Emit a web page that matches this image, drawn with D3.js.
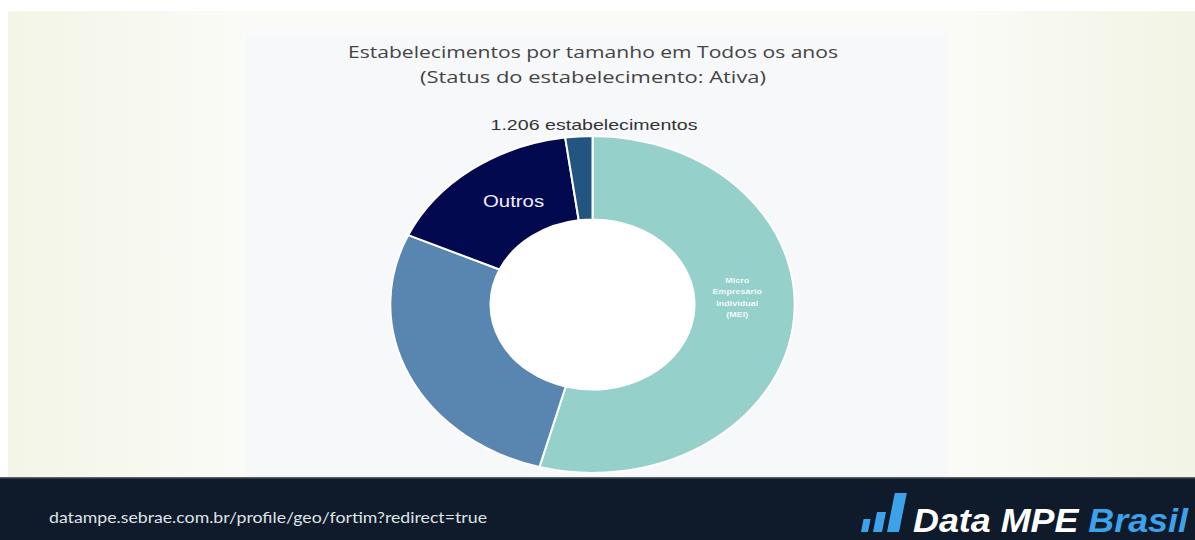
<!DOCTYPE html>
<html>
<head>
<meta charset="utf-8">
<script src="https://cdn.jsdelivr.net/npm/d3@7"></script>
<style>
  body { margin: 0; background: #fff; }
  svg { display: block; }
</style>
</head>
<body>
<script>
var W = 1195, H = 540;

// data
var categories = ["Micro Empresário Individual (MEI)", "Microempresa (ME)", "Outros", "Empresa de Pequeno Porte (EPP)"];
var values = [654, 332, 194, 26];
var colors = ["#95d0cb", "#5886b0", "#03094f", "#225680"];
var labelLines = [["Micro", "Empresário", "Individual", "(MEI)"], [], ["Outros"], []];
var titleLines = ["Estabelecimentos por tamanho em Todos os anos", "(Status do estabelecimento: Ativa)"];
var total = d3.sum(values);

var svg = d3.select("body").append("svg")
    .attr("width", W)
    .attr("height", H);

var defs = svg.append("defs");
var bg = defs.append("linearGradient").attr("id", "slidebg");
bg.append("stop").attr("offset", "0%").attr("stop-color", "#f3f5e7");
bg.append("stop").attr("offset", "20%").attr("stop-color", "#fafbf6");
bg.append("stop").attr("offset", "80%").attr("stop-color", "#fafbf6");
bg.append("stop").attr("offset", "100%").attr("stop-color", "#f2f4e5");

var pg = defs.append("linearGradient").attr("id", "panelbg")
    .attr("x1", 0).attr("y1", 0).attr("x2", 0).attr("y2", 1);
pg.append("stop").attr("offset", "0%").attr("stop-color", "#fbfbfa");
pg.append("stop").attr("offset", "4%").attr("stop-color", "#f7f8fa");
pg.append("stop").attr("offset", "100%").attr("stop-color", "#f7f8fa");

// slide background
svg.append("rect").attr("x", 8).attr("y", 11).attr("width", W - 8).attr("height", 466)
    .attr("fill", "url(#slidebg)");

// chart panel
svg.append("rect").attr("x", 246).attr("y", 22).attr("width", 702).attr("height", 455)
    .attr("fill", "url(#panelbg)");

// title
svg.selectAll(".title")
  .data(titleLines)
  .enter().append("text")
    .attr("class", "title")
    .attr("x", 593)
    .attr("y", function(d, i) { return 58 + i * 25; })
    .attr("text-anchor", "middle")
    .attr("textLength", function(d, i) { return i == 0 ? 490 : 346; })
    .attr("lengthAdjust", "spacingAndGlyphs")
    .style("font-family", "'Open Sans', sans-serif")
    .style("font-size", "16px")
    .style("fill", "#444")
    .text(function(d) { return d; });

svg.append("text")
    .attr("x", 594)
    .attr("y", 130)
    .attr("text-anchor", "middle")
    .attr("textLength", 207)
    .attr("lengthAdjust", "spacingAndGlyphs")
    .style("font-family", "'Liberation Sans', Arial, sans-serif")
    .style("font-size", "15px")
    .style("fill", "#333")
    .text(d3.format(",")(total).replace(",", ".") + " estabelecimentos");

// donut (the picture is stretched horizontally)
var outerR = 168.5, innerR = 85, sx = 1.2;

var pie = d3.pie().sort(null).value(function(d) { return d; });
var arc = d3.arc().innerRadius(innerR).outerRadius(outerR);

var g = svg.append("g")
    .attr("transform", "translate(592.5,304.5) scale(" + sx + ",1)");

// white hole
g.append("circle").attr("r", innerR).attr("fill", "#ffffff");

var arcs = pie(values);

g.selectAll("path")
  .data(arcs)
  .enter().append("path")
    .attr("d", arc)
    .attr("fill", function(d, i) { return colors[i]; })
    .attr("stroke", "#fff")
    .attr("stroke-width", 2)
    .attr("vector-effect", "non-scaling-stroke");

// slice labels
var labelShift = [[-6, -24], [0, 0], [12, -2], [0, 0]];
var labelSize = [7.5, 0, 17, 0];
var labelGap = [11.3, 0, 0, 0];

arcs.forEach(function(a, i) {
  var lines = labelLines[i];
  if (!lines.length) return;
  var c = arc.centroid(a);
  var cx = c[0] + labelShift[i][0] / sx, cy = c[1] + labelShift[i][1];
  var t = g.append("text")
      .attr("text-anchor", "middle")
      .style("font-family", "'Liberation Sans', Arial, sans-serif")
      .style("font-size", labelSize[i] + "px")
      .style("fill", i == 0 ? "rgba(255,255,255,0.9)" : "#eef")
      .style("font-weight", i == 0 ? "bold" : "normal");
  lines.forEach(function(l, j) {
    t.append("tspan")
      .attr("x", cx)
      .attr("y", cy + (j - (lines.length - 1) / 2) * labelGap[i])
      .attr("dy", "0.35em")
      .text(l);
  });
});

// footer
svg.append("rect").attr("x", 0).attr("y", 477).attr("width", W).attr("height", H - 477)
    .attr("fill", "#0f1b2b");
svg.append("rect").attr("x", 0).attr("y", 477).attr("width", W).attr("height", 1.5)
    .attr("fill", "#56606b");

svg.append("text")
    .attr("x", 49)
    .attr("y", 523)
    .attr("textLength", 438)
    .attr("lengthAdjust", "spacingAndGlyphs")
    .style("font-family", "Lato, sans-serif")
    .style("font-size", "15px")
    .style("fill", "#dfe2e6")
    .text("datampe.sebrae.com.br/profile/geo/fortim?redirect=true");

// logo
var logo = svg.append("g");
var bars = [[861, 519, 7], [873, 512, 9], [887, 493, 12]];
bars.forEach(function(b) {
  var x = b[0], top = b[1], w = b[2], bottom = 532, sk = (bottom - top) * 0.2;
  logo.append("polygon")
    .attr("points", [[x + sk, top], [x + sk + w, top], [x + w, bottom], [x, bottom]].join(" "))
    .attr("fill", "#3da2ea");
});

var lt = logo.append("text")
    .attr("x", 913)
    .attr("y", 532)
    .attr("textLength", 275)
    .attr("lengthAdjust", "spacingAndGlyphs")
    .style("font-family", "'Liberation Sans', Arial, sans-serif")
    .style("font-size", "34px")
    .style("font-weight", "bold")
    .style("font-style", "italic");
lt.append("tspan").attr("fill", "#ffffff").text("Data MPE ");
lt.append("tspan").attr("fill", "#3da2ea").text("Brasil");
</script>
</body>
</html>
